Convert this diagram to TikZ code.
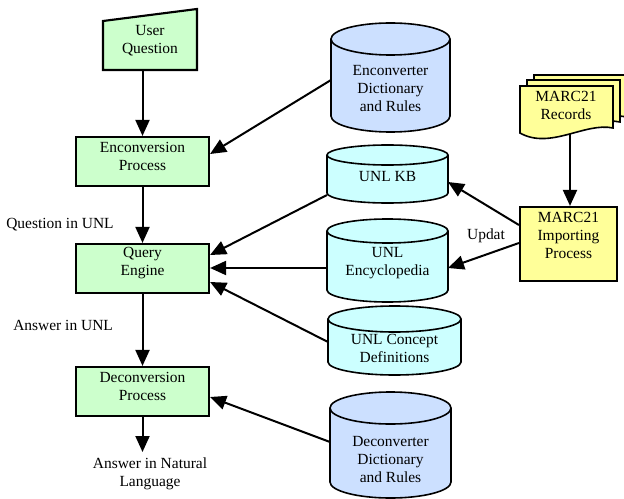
\documentclass[tikz,border=0pt]{standalone}
\usepackage{fontspec}
\setmainfont{Liberation Serif}
\usetikzlibrary{arrows.meta}
\definecolor{gfill}{HTML}{CCFFCC}
\definecolor{bfill}{HTML}{CCE0FF}
\definecolor{cfill}{HTML}{CCFFFF}
\definecolor{yfill}{HTML}{FFFF99}
\newcommand\drawcyl[6]{%
  \filldraw[cylline,fill=#6] (#1,#4-#5) ellipse [x radius=#2, y radius=#5];
  \fill[#6] (#1-#2,#3+#5) rectangle (#1+#2,#4-#5);
  \draw[cylline] (#1-#2,#3+#5) -- (#1-#2,#4-#5) (#1+#2,#3+#5) -- (#1+#2,#4-#5);
  \filldraw[cylline,fill=#6] (#1,#3+#5) ellipse [x radius=#2, y radius=#5];
}
\newcommand\drawdoc[2]{%
  \filldraw[docline] (#1,#2) -- (#1+93,#2) -- (#1+93,#2+42)
    .. controls (#1+65,#2+36) and (#1+30,#2+64) .. (#1,#2+47) -- cycle;
}
\begin{document}
\begin{tikzpicture}[x=0.75pt,y=-0.75pt,
  txt/.style={align=center,inner sep=0pt,font=\fontsize{11.6}{13.5}\selectfont},
  gbox/.style={draw,line width=1.6pt,fill=gfill,minimum width=99.75pt,minimum height=36.75pt,inner sep=0pt},
  ybox/.style={draw,line width=1.6pt,fill=yfill,minimum width=72.75pt,minimum height=55.5pt,inner sep=0pt},
  cylline/.style={line width=1.2pt},
  docline/.style={line width=1.2pt,fill=yfill},
  arr/.style={line width=1.5pt,-{Triangle[length=12pt,width=10.5pt]}}]
\useasboundingbox (0,0) rectangle (624,499);

% User question (manual input)
\node[minimum width=70.5pt,minimum height=36.75pt,inner sep=0pt] (uq) at (150,45.5) {};
\filldraw[line width=1.6pt,fill=gfill] (103,21) -- (197,9) -- (197,70) -- (103,70) -- cycle;
\node[txt] (uqT) at (150,41) {User\\Question};

% process boxes
\node[gbox] (enc) at (142.5,161.5) {};
\node[txt] (encT) at (142.5,156) {Enconversion\\Process};
\node[gbox] (qe) at (142.5,268.5) {};
\node[txt] (qeT) at (142.5,263.5) {Query\\Engine};
\node[gbox] (dec) at (142.5,391.5) {};
\node[txt] (decT) at (142.5,386.5) {Deconversion\\Process};
\node[ybox] (imp) at (568.5,244) {};
\node[txt] (impT) at (568.5,235) {MARC21\\Importing\\Process};

% cylinders
\drawcyl{390.5}{59.5}{23}{132}{16}{bfill}
\node[txt] (ed) at (390.5,89) {Enconverter\\Dictionary\\and Rules};
\drawcyl{387.5}{60.5}{145}{203}{10}{cfill}
\node[txt] (kb) at (387.5,177) {UNL KB};
\drawcyl{387.5}{60.5}{219}{302}{12}{cfill}
\node[txt] (ency) at (387.5,263) {UNL\\Encyclopedia};
\drawcyl{394.5}{66.5}{306}{375}{13}{cfill}
\node[txt] (cdef) at (394.5,348) {UNL Concept\\Definitions};
\drawcyl{390.5}{60.5}{392}{498}{16}{bfill}
\node[txt] (dd) at (390.5,460) {Deconverter\\Dictionary\\and Rules};

% MARC21 records (multi document)
\drawdoc{534}{75}
\drawdoc{527}{80}
\drawdoc{520}{86}
\node[txt] (recs) at (566,105) {MARC21\\Records};

% labels
\node[txt,anchor=west] (lq) at (6,225) {Question in UNL};
\node[txt,anchor=west] (la) at (13,325) {Answer in UNL};
\node[txt] (lup) at (486,236) {Updat};
\node[txt] (ans) at (150,474) {Answer in Natural\\Language};
\coordinate (ansTop) at (142.5,452);

% connectors
\draw[arr] (uq.south -| enc.north) -- (enc.north);
\draw[arr] (enc.south) -- (qe.north);
\draw[arr] (qe.south) -- (dec.north);
\draw[arr] (dec.south) -- (ansTop);
\draw[arr] (331,80) -- (enc.east |- 0,154);
\draw[arr] (327,195) -- (qe.east |- 0,255);
\draw[arr] (327,268) -- (qe.east |- 0,268);
\draw[arr] (328,342) -- (qe.east |- 0,282);
\draw[arr] (330,442) -- (dec.east |- 0,397);
\draw[arr] (imp.west |- 0,225) -- (448,182);
\draw[arr] (imp.west |- 0,243) -- (448,268);
\draw[arr] (570,134) -- (imp.north -| 570,0);
\end{tikzpicture}
\end{document}
